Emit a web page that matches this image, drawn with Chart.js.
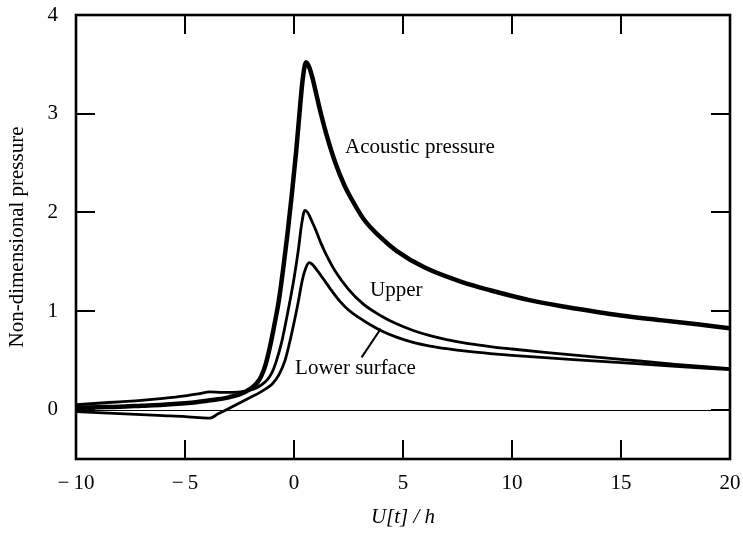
<!DOCTYPE html>
<html><head><meta charset="utf-8">
<script src="https://cdn.jsdelivr.net/npm/chart.js@4/dist/chart.umd.min.js"></script>
<style>html,body{margin:0;padding:0;background:#fff;overflow:hidden}#c{display:block}</style>
</head><body>
<canvas id="c" width="743" height="533"></canvas>
<script>
const xTicks = [-10, -5, 0, 5, 10, 15, 20];
const yTicks = [0, 1, 2, 3, 4];

const acousticX = [-10, -9, -8, -7, -6, -5, -4.5, -4, -3.5, -3, -2.5, -2, -1.7, -1.5, -1.3, -1.1, -0.9, -0.7, -0.5, -0.3, -0.1, 0.1, 0.25, 0.4, 0.55, 0.7, 0.85, 1.0, 1.2, 1.5, 1.9, 2.3, 2.6, 3.2, 4, 4.7, 6, 7.75, 9, 10.8, 12.5, 13.9, 15, 16.9, 18.5, 20];
const acousticY = [0.02, 0.025, 0.03, 0.04, 0.05, 0.065, 0.075, 0.09, 0.105, 0.125, 0.155, 0.21, 0.27, 0.34, 0.46, 0.64, 0.86, 1.1, 1.42, 1.78, 2.18, 2.62, 3.0, 3.35, 3.52, 3.47, 3.36, 3.22, 3.03, 2.78, 2.5, 2.28, 2.15, 1.93, 1.74, 1.61, 1.44, 1.29, 1.21, 1.11, 1.04, 0.99, 0.955, 0.905, 0.865, 0.825];

const upperX = [-10, -9, -8, -7, -6, -5, -4.4, -3.85, -3.3, -2.8, -2.3, -1.9, -1.5, -1.2, -1.0, -0.8, -0.56, -0.3, 0, 0.2, 0.35, 0.5, 0.65, 0.8, 1.0, 1.25, 1.5, 1.9, 2.5, 3.18, 4, 4.7, 5.5, 6.24, 7, 8, 9, 10, 11.5, 13, 15, 17.5, 20];
const upperY = [0.05, 0.065, 0.08, 0.095, 0.115, 0.14, 0.16, 0.18, 0.175, 0.175, 0.185, 0.205, 0.25, 0.31, 0.38, 0.5, 0.69, 0.97, 1.33, 1.62, 1.88, 2.02, 1.99, 1.92, 1.82, 1.68, 1.56, 1.4, 1.22, 1.07, 0.95, 0.87, 0.8, 0.75, 0.71, 0.67, 0.64, 0.615, 0.58, 0.55, 0.51, 0.46, 0.415];

const lowerX = [-10, -9, -8, -7, -6, -5, -4.4, -3.85, -3.5, -3.1, -2.7, -2.3, -1.9, -1.6, -1.3, -1.0, -0.7, -0.41, -0.18, 0.15, 0.4, 0.55, 0.7, 0.85, 1.0, 1.3, 1.65, 2.1, 2.5, 3, 3.5, 4, 4.7, 5.5, 6.24, 7, 8, 9, 10, 11.5, 13, 15, 17.5, 20];
const lowerY = [-0.02, -0.03, -0.04, -0.05, -0.06, -0.07, -0.08, -0.085, -0.045, 0.0, 0.045, 0.09, 0.135, 0.17, 0.21, 0.26, 0.35, 0.5, 0.7, 1.04, 1.33, 1.44, 1.49, 1.47, 1.43, 1.34, 1.23, 1.1, 1.01, 0.93, 0.86, 0.8, 0.735, 0.68, 0.645, 0.618, 0.59, 0.568, 0.55, 0.527, 0.505, 0.476, 0.44, 0.405];

const seriesNames = ['Acoustic pressure', 'Upper', 'Lower surface'];
const noteText = ['Acoustic pressure', 'Upper', 'Lower surface'];
const noteX = [2.34, 3.49, 0.05];
const noteY = [2.60, 1.15, 0.365];
const pointerX = [3.1, 3.98];
const pointerY = [0.53, 0.82];

const SERIF = '"Liberation Serif", "DejaVu Serif", serif';

function pts(xs, ys) { return xs.map((x, i) => ({ x: x, y: ys[i] })); }

const fmtX = v => v < 0 ? '\u2212\u2009' + Math.abs(v) : String(v);

const decorPlugin = {
  id: 'decor',
  beforeDatasetsDraw(chart) {
    const { ctx, chartArea: a, scales: { x, y } } = chart;
    ctx.save();
    ctx.strokeStyle = '#000';
    ctx.lineWidth = 1;
    const y0 = Math.round(y.getPixelForValue(0)) + 0.5;
    ctx.beginPath(); ctx.moveTo(a.left, y0); ctx.lineTo(a.right, y0); ctx.stroke();
    ctx.restore();
  },
  afterDatasetsDraw(chart) {
    const { ctx, chartArea: a, scales: { x, y } } = chart;
    ctx.save();
    ctx.strokeStyle = '#000';
    ctx.lineWidth = 2;
    const L = 19;
    ctx.beginPath();
    xTicks.forEach(v => {
      if (v === x.min || v === x.max) return;
      const px = Math.round(x.getPixelForValue(v));
      ctx.moveTo(px, a.bottom); ctx.lineTo(px, a.bottom - L);
      ctx.moveTo(px, a.top); ctx.lineTo(px, a.top + L);
    });
    yTicks.forEach(v => {
      if (v === y.max) return;
      const py = Math.round(y.getPixelForValue(v));
      ctx.moveTo(a.left, py); ctx.lineTo(a.left + L, py);
      ctx.moveTo(a.right, py); ctx.lineTo(a.right - L, py);
    });
    ctx.stroke();
    ctx.lineWidth = 2.6;
    ctx.strokeRect(a.left, a.top, a.right - a.left, a.bottom - a.top);
    ctx.fillStyle = '#000';
    ctx.font = '21px ' + SERIF;
    ctx.textAlign = 'left';
    ctx.textBaseline = 'alphabetic';
    noteText.forEach((t, i) => {
      ctx.fillText(t, x.getPixelForValue(noteX[i]), y.getPixelForValue(noteY[i]));
    });
    ctx.lineWidth = 2;
    ctx.beginPath();
    ctx.moveTo(x.getPixelForValue(pointerX[0]), y.getPixelForValue(pointerY[0]));
    ctx.lineTo(x.getPixelForValue(pointerX[1]), y.getPixelForValue(pointerY[1]));
    ctx.stroke();
    ctx.restore();
  }
};

new Chart(document.getElementById('c'), {
  type: 'line',
  data: {
    datasets: [
      { label: seriesNames[0], data: pts(acousticX, acousticY), borderColor: '#000', borderWidth: 4.5, pointRadius: 0, cubicInterpolationMode: 'monotone', fill: false },
      { label: seriesNames[1], data: pts(upperX, upperY), borderColor: '#000', borderWidth: 2.8, pointRadius: 0, cubicInterpolationMode: 'monotone', fill: false },
      { label: seriesNames[2], data: pts(lowerX, lowerY), borderColor: '#000', borderWidth: 2.8, pointRadius: 0, cubicInterpolationMode: 'monotone', fill: false }
    ]
  },
  options: {
    responsive: false,
    animation: false,
    devicePixelRatio: 1,
    layout: { autoPadding: false, padding: { top: 15, right: 13, left: 0, bottom: 0 } },
    plugins: { legend: { display: false }, tooltip: { enabled: false } },
    scales: {
      x: {
        type: 'linear', min: -10, max: 20,
        afterBuildTicks: s => { s.ticks = xTicks.map(v => ({ value: v })); },
        afterFit: s => { s.height = 74; s.paddingLeft = 0; s.paddingRight = 0; },
        grid: { display: false, drawTicks: false },
        border: { display: false },
        ticks: { color: '#000', padding: 12, maxRotation: 0, font: { family: SERIF, size: 21 }, callback: v => fmtX(v) },
        title: { display: true, text: 'U[t] / h', color: '#000', padding: { top: 0, bottom: 3 }, font: { family: SERIF, size: 21, style: 'italic' } }
      },
      y: {
        type: 'linear', min: -0.5, max: 4,
        afterBuildTicks: s => { s.ticks = yTicks.map(v => ({ value: v })); },
        afterFit: s => { s.width = 76; s.paddingTop = 0; s.paddingBottom = 0; },
        grid: { display: false, drawTicks: false },
        border: { display: false },
        ticks: { color: '#000', padding: 18, font: { family: SERIF, size: 21 }, callback: v => String(v) },
        title: { display: true, text: 'Non-dimensional pressure', color: '#000', padding: { top: 5, bottom: 0 }, font: { family: SERIF, size: 21 } }
      }
    }
  },
  plugins: [decorPlugin]
});
</script>
</body></html>
